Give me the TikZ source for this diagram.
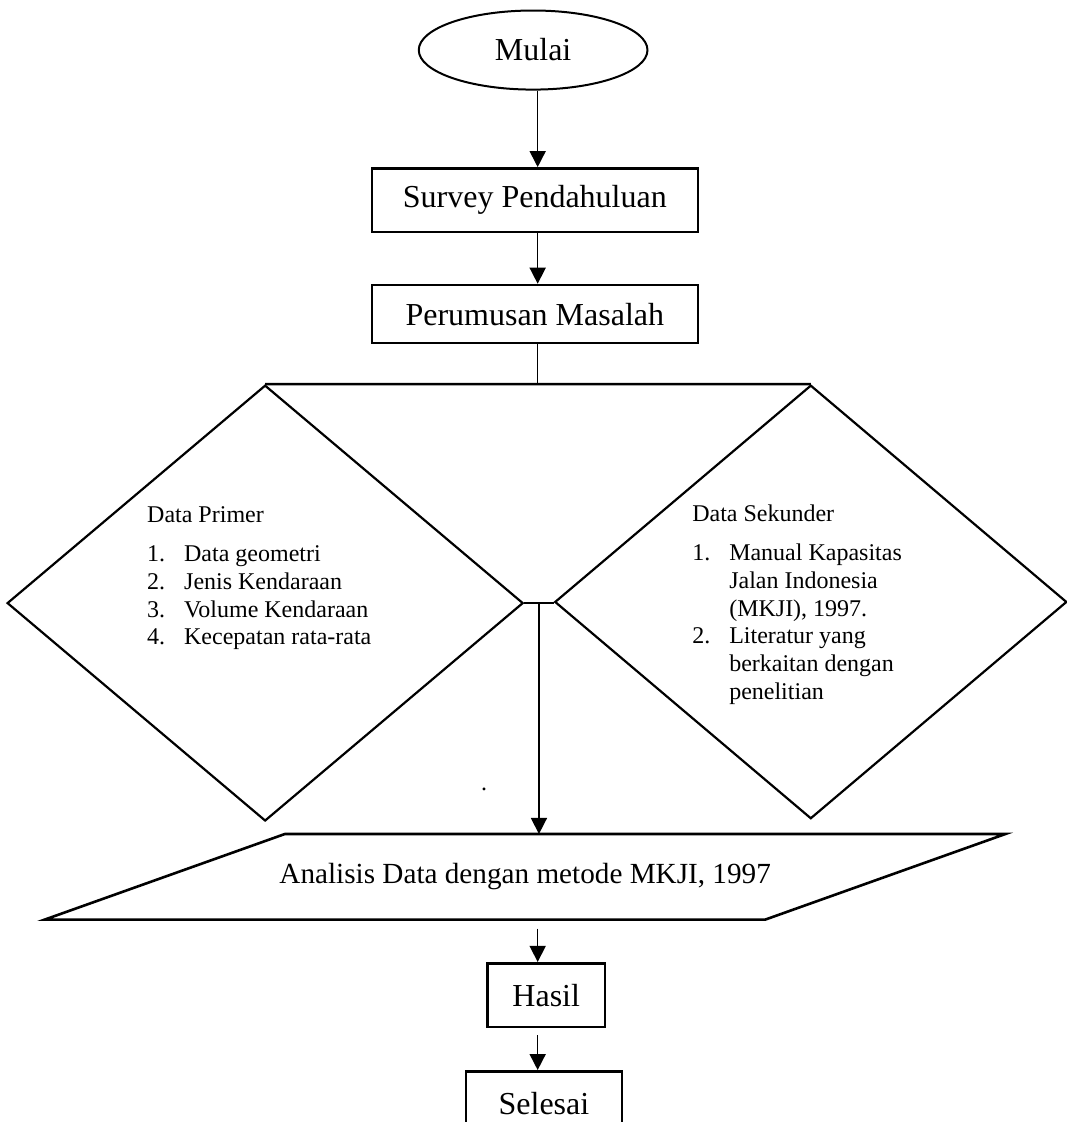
\documentclass[tikz,border=0pt]{standalone}
\usepackage{fontspec}
\setmainfont{Liberation Serif}
\usetikzlibrary{arrows.meta,shapes.geometric,calc}

\newcommand{\numitem}[2]{\makebox[18.5pt][l]{#1}#2}

\begin{document}
\begin{tikzpicture}[
  font=\fontsize{16pt}{19pt}\selectfont,
  >={Triangle[length=8pt,width=8pt]},
  startnode/.style={ellipse,draw=black,line width=1pt,minimum width=4.02cm,
                    minimum height=1.39cm,inner sep=0pt},
  procbox/.style={rectangle,draw=black,line width=1.3pt,minimum height=1.12cm,inner sep=0pt},
  datadia/.style={diamond,draw=black,line width=1.1pt,inner sep=0pt},
  listtxt/.style={font=\fontsize{12pt}{13.85pt}\selectfont,align=left,inner sep=0pt,
                  anchor=north west},
  iobody/.style={rectangle,minimum width=12.65cm,minimum height=1.49cm,inner sep=0pt,
                 font=\fontsize{14.6pt}{17pt}\selectfont},
  iofrm/.style={draw=black,line width=1.3pt},
  link/.style={draw=black,line width=1.2pt},
  thinlink/.style={draw=black,line width=0.8pt},
  flow/.style={->,draw=black,line width=0.8pt},
]

\useasboundingbox (0,0) rectangle (18.75,19.72);

%% ---------------------------------------------------------------- start
\node[startnode] (ml) at (9.37,18.84) {Mulai};
\node[procbox,minimum width=5.73cm] (sp) at (9.40,16.20) {Survey Pendahuluan};
\node[procbox,minimum width=5.73cm,minimum height=1.02cm] (rm) at (9.40,14.20)
  {Perumusan Masalah};
\coordinate (ax) at (9.45,0);
\draw[flow] (ax |- ml.south) -- (ax |- sp.north);
\draw[flow] (ax |- sp.south) -- (ax |- rm.north);

%% ----------------------------------------------------------------- data
\node[datadia,minimum width=9.07cm,minimum height=7.66cm] (dp) at (4.66,9.12) {};
\node[datadia,minimum width=9.00cm,minimum height=7.62cm] (ds) at (14.25,9.14) {};
\draw[thinlink] (ax |- rm.south) -- (ax |- dp.north);
\draw[link] (dp.north) -- (ds.north);
\draw[link] (dp.east) -- (dp.east -| ds.west);
\coordinate (jn) at ($(dp.east)!0.5!(dp.east -| ds.west)$);

\node[listtxt] (dptxt) at (2.58,10.83)
  {Data Primer\\[6pt]
   \numitem{1.}{Data geometri}\\
   \numitem{2.}{Jenis Kendaraan}\\
   \numitem{3.}{Volume Kendaraan}\\
   \numitem{4.}{Kecepatan rata-rata}};
\node[listtxt] (dstxt) at (12.16,10.86)
  {Data Sekunder\\[6pt]
   \numitem{1.}{Manual Kapasitas}\\
   \numitem{}{Jalan Indonesia}\\
   \numitem{}{(MKJI), 1997.}\\
   \numitem{2.}{Literatur yang}\\
   \numitem{}{berkaitan dengan}\\
   \numitem{}{penelitian}};

%% ------------------------------------------------------------- analysis
\node[iobody] (anl) at (9.23,4.31) {Analisis Data dengan metode MKJI, 1997};
\draw[iofrm] ([xshift=2.11cm]anl.north west) -- ([xshift=2.11cm]anl.north east)
  -- ([xshift=-2.11cm]anl.south east) -- ([xshift=-2.11cm]anl.south west) -- cycle;
\draw[flow] (jn) -- (jn |- anl.north);
\node[inner sep=0pt,font=\fontsize{12pt}{14pt}\selectfont] (stray) at (8.51,5.85) {.};

%% --------------------------------------------------------------- result
\node[procbox,minimum width=2.06cm] (hs) at (9.60,2.23) {Hasil};
\node[procbox,minimum width=2.74cm] (sl) at (9.56,0.33) {Selesai};
\draw[flow,shorten <=4.5pt] (ax |- anl.south) -- (ax |- hs.north);
\draw[flow,shorten <=3.5pt] (ax |- hs.south) -- (ax |- sl.north);

\end{tikzpicture}
\end{document}
